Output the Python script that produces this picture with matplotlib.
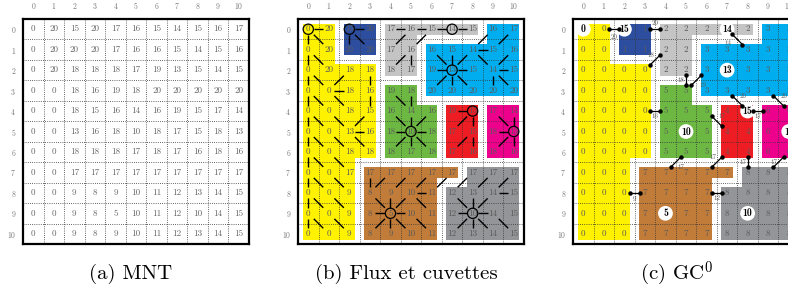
import numpy as np
import matplotlib.pyplot as plt
from matplotlib.patches import Circle
from matplotlib.collections import PolyCollection

plt.rcParams['font.family'] = 'cmr10'
plt.rcParams['mathtext.fontset'] = 'cm'
plt.rcParams['axes.formatter.use_mathtext'] = True

# MNT (altitudes)
mnt = np.array([
    [0, 20, 15, 20, 17, 16, 15, 14, 15, 16, 17],
    [0, 20, 20, 20, 17, 16, 16, 15, 14, 15, 16],
    [0, 20, 18, 18, 18, 17, 19, 13, 15, 14, 15],
    [0, 0, 18, 16, 19, 18, 20, 20, 20, 20, 20],
    [0, 0, 18, 15, 16, 14, 16, 19, 15, 17, 14],
    [0, 0, 13, 16, 18, 10, 18, 17, 15, 18, 13],
    [0, 0, 18, 18, 18, 17, 18, 17, 16, 18, 16],
    [0, 0, 17, 17, 17, 17, 17, 17, 17, 17, 17],
    [0, 0, 9, 8, 9, 10, 11, 12, 13, 14, 15],
    [0, 0, 9, 8, 5, 10, 11, 12, 10, 14, 15],
    [0, 0, 9, 8, 9, 10, 11, 12, 13, 14, 15],
])

# cuvette (basin) id of each cell
basin = np.array([
    [0, 0, 1, 1, 2, 2, 2, 2, 2, 3, 3],
    [0, 0, 1, 1, 2, 2, 3, 3, 3, 3, 3],
    [0, 0, 0, 0, 2, 2, 3, 3, 3, 3, 3],
    [0, 0, 0, 0, 5, 5, 3, 3, 3, 3, 3],
    [0, 0, 0, 0, 5, 5, 5, 4, 4, 6, 6],
    [0, 0, 0, 0, 5, 5, 5, 4, 4, 6, 6],
    [0, 0, 0, 0, 5, 5, 5, 4, 4, 6, 6],
    [0, 0, 0, 7, 7, 7, 7, 7, 8, 8, 8],
    [0, 0, 0, 7, 7, 7, 7, 8, 8, 8, 8],
    [0, 0, 0, 7, 7, 7, 7, 8, 8, 8, 8],
    [0, 0, 0, 7, 7, 7, 7, 8, 8, 8, 8],
])

# flow direction of each cell (o = cuvette minimum, . = none)
flow = [
    "o W o W E E E o W SW SW",
    "N NW N NW NE NE SE S SW W SW",
    "N NW SW S NE N E o W NW W",
    "N NW W S SE S NE N NW N NW",
    "N NW NW SW SE S SW E o SE S",
    "N NW NW W E o W NE N E o",
    "N NW NW NW NE N NW NE N NE N",
    "N NW NW S SW SW SW SW SW SW SW",
    "N NW NW SE S SW W SE S SW W",
    "N NW NW E o W NW E o W .",
    "N NW NW NE N NW NW NE N NW NW",
]

basin_colors = ['#FFF200', '#2D4E9E', '#C4C4C4', '#00AEEF', '#EE1D23',
                '#6CB843', '#EC008C', '#C17C3A', '#939598']

# GC0 edges between cuvettes (cell -> cell) and pass altitude
edge_from = [(0, 1), (0, 3), (2, 3), (0, 7), (2, 5), (3, 5), (3, 7), (3, 9), (4, 3),
             (4, 8), (4, 6), (6, 5), (6, 7), (6, 8), (6, 10), (8, 2), (8, 6)]
edge_to = [(0, 2), (0, 4), (1, 4), (1, 8), (3, 5), (2, 6), (4, 8), (4, 10), (4, 4),
           (4, 9), (5, 7), (7, 4), (7, 6), (7, 8), (7, 9), (8, 3), (8, 7)]
edge_pass = [20, 20, 18, 14, 18, 19, 20, 20, 16, 17, 17, 17, 17, 17, 17, 9, 12]
# label placement (layout only)
label_off = [(0, 0.38), (0, -0.3), (-0.19, -0.25), (-0.45, 0.2), (-0.25, 0),
             (0.3, 0.24), (0.29, -0.23), (0.26, -0.23), (0, 0.26), (0, 0.26),
             (0.24, -0.24), (0.24, 0.25), (-0.21, -0.24), (-0.21, 0), (-0.2, 0),
             (0, 0.3), (0, 0.26)]

dirs = {'N': (-1, 0), 'S': (1, 0), 'E': (0, 1), 'W': (0, -1),
        'NE': (-1, 1), 'NW': (-1, -1), 'SE': (1, 1), 'SW': (1, -1)}
flow = [row.split() for row in flow]
n = mnt.shape[0]
txt_col = '#5a5a5a'


def region_polys(mask, m=0.22):
    polys = []

    def inside(r, c):
        return 0 <= r < n and 0 <= c < n and mask[r, c]

    for r, c in zip(*np.nonzero(mask)):
        xs = [(c - 0.5, c - 0.5 + m), (c - 0.5 + m, c + 0.5 - m), (c + 0.5 - m, c + 0.5)]
        ys = [(r - 0.5, r - 0.5 + m), (r - 0.5 + m, r + 0.5 - m), (r + 0.5 - m, r + 0.5)]
        for i, dy in enumerate((-1, 0, 1)):
            for j, dx in enumerate((-1, 0, 1)):
                if dx and not inside(r, c + dx):
                    continue
                if dy and not inside(r + dy, c):
                    continue
                if dx and dy and not inside(r + dy, c + dx):
                    continue
                x0, x1 = xs[j]
                y0, y1 = ys[i]
                polys.append([(x0, y0), (x1, y0), (x1, y1), (x0, y1)])
    return polys


def setup(ax):
    ax.set_xlim(-0.5, n - 0.5)
    ax.set_ylim(n - 0.5, -0.5)
    ax.set_xticks(range(n))
    ax.set_yticks(range(n))
    ax.xaxis.tick_top()
    ax.tick_params(length=0, labelsize=5.5, labelcolor='#777777')
    ax.tick_params(axis='x', pad=6)
    ax.tick_params(axis='y', pad=5)
    for s in ax.spines.values():
        s.set_linewidth(1.6)
    for k in range(1, n):
        ax.axvline(k - 0.5, color='#333333', lw=0.6, ls=(0, (1, 1.6)), zorder=2)
        ax.axhline(k - 0.5, color='#333333', lw=0.6, ls=(0, (1, 1.6)), zorder=2)


def fill_basins(ax):
    for b, col in enumerate(basin_colors):
        pc = PolyCollection(region_polys(basin == b), facecolors=col,
                            edgecolors='none', antialiased=False, zorder=1)
        ax.add_collection(pc)


fig = plt.figure(figsize=(7.88, 2.90), dpi=100)
W, H = 788, 290
axes = [fig.add_axes([x0 / W, 1 - 244 / H, 226 / W, 225 / H]) for x0 in (23, 298, 573)]
for ax in axes:
    setup(ax)

# (a) MNT
ax = axes[0]
for r in range(n):
    for c in range(n):
        ax.text(c, r, str(mnt[r, c]), ha='center', va='center', fontsize=6.5,
                color='#666666', zorder=4)

# (b) Flux et cuvettes
ax = axes[1]
fill_basins(ax)
for r in range(n):
    for c in range(n):
        ax.text(c, r, str(mnt[r, c]), ha='center', va='center', fontsize=6.5,
                color=txt_col, zorder=4)
        d = flow[r][c]
        if d == 'o':
            ax.add_patch(Circle((c, r), 0.25, fill=False, ec='black', lw=0.9, zorder=3))
        elif d in dirs:
            dr, dc = dirs[d]
            ax.plot([c + 0.27 * dc, c + 0.73 * dc], [r + 0.27 * dr, r + 0.73 * dr],
                    color='black', lw=1.0, zorder=3, solid_capstyle='butt')

# (c) GC0
ax = axes[2]
fill_basins(ax)
for r in range(n):
    for c in range(n):
        if flow[r][c] == 'o':
            ax.add_patch(Circle((c, r), 0.36, fc='white', ec='none', zorder=3))
            ax.text(c, r, str(mnt[r, c]), ha='center', va='center', fontsize=7,
                    family='cmb10', color='black', zorder=5)
        else:
            ax.text(c, r, str(basin[r, c]), ha='center', va='center', fontsize=6.5,
                    color=txt_col, zorder=4)
for (r1, c1), (r2, c2), p, (ox, oy) in zip(edge_from, edge_to, edge_pass, label_off):
    dr, dc = r2 - r1, c2 - c1
    ax.plot([c1 + 0.25 * dc, c2 - 0.25 * dc], [r1 + 0.25 * dr, r2 - 0.25 * dr],
            color='black', lw=0.9, marker='o', ms=2.2, zorder=6)
    ax.text((c1 + c2) / 2 + ox, (r1 + r2) / 2 + oy, str(p), ha='center', va='center',
            fontsize=5, color=txt_col, zorder=6)

fig.text(131 / W, 1 - 273.5 / H, '(a) MNT', ha='center', va='center', fontsize=15)
fig.text(406.5 / W, 1 - 273.5 / H, '(b) Flux et cuvettes', ha='center', va='center', fontsize=15)
fig.text(677 / W, 1 - 273.5 / H, '(c) GC$^0$', ha='center', va='center', fontsize=15)

fig.savefig('out.png', dpi=100)
